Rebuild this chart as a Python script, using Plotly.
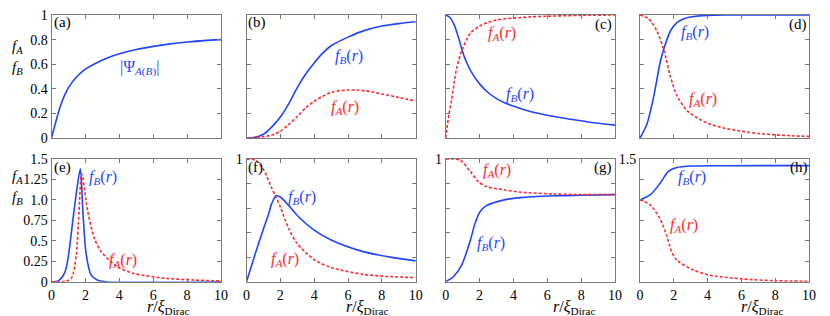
import plotly.graph_objects as go

# ---------------- data ----------------
a_r = [0, 0.25, 0.5, 0.75, 1.0, 1.5, 2.0, 2.5, 3, 4, 5, 6, 7, 8, 9, 10]
a_psi = [0, 0.13, 0.25, 0.34, 0.41, 0.50, 0.56, 0.60, 0.635, 0.685, 0.72, 0.745, 0.765, 0.78, 0.792, 0.80]

b_rB = [0, 0.5, 1, 1.5, 2, 2.5, 3, 3.5, 4, 4.5, 5, 6, 7, 8, 9, 10]
b_fB = [0, 0.005, 0.03, 0.09, 0.17, 0.28, 0.41, 0.52, 0.61, 0.69, 0.75, 0.82, 0.875, 0.91, 0.93, 0.945]
b_rA = [0, 1, 1.5, 2, 2.5, 3, 3.5, 4, 4.5, 5, 5.5, 6, 6.5, 7, 7.5, 8, 9, 10]
b_fA = [0, 0.01, 0.025, 0.055, 0.11, 0.175, 0.245, 0.30, 0.34, 0.37, 0.385, 0.39, 0.39, 0.385, 0.372, 0.358, 0.33, 0.30]

c_rA = [0, 0.2, 0.35, 0.5, 0.65, 0.95, 1.45, 2, 2.5, 3, 4, 5, 6, 8, 10]
c_fA = [0, 0.2, 0.31, 0.45, 0.57, 0.71, 0.85, 0.91, 0.94, 0.96, 0.975, 0.985, 0.99, 0.997, 1.0]
c_rB = [0, 0.25, 0.5, 0.75, 1, 1.25, 1.5, 2, 2.5, 3, 3.5, 4, 5, 6, 7, 8, 9, 10]
c_fB = [1.0, 0.98, 0.92, 0.82, 0.70, 0.61, 0.54, 0.44, 0.37, 0.32, 0.285, 0.26, 0.215, 0.185, 0.16, 0.14, 0.12, 0.105]

d_rA = [0, 0.5, 1, 1.4, 1.8, 2.2, 2.8, 3.5, 4, 5, 6, 7, 8, 9, 10]
d_fA = [1, 0.97, 0.87, 0.72, 0.50, 0.34, 0.22, 0.155, 0.12, 0.08, 0.055, 0.037, 0.026, 0.018, 0.013]
d_rB = [0, 0.4, 0.8, 1.2, 1.4, 1.8, 2.2, 2.6, 3.2, 4, 5, 10]
d_fB = [0, 0.11, 0.33, 0.62, 0.72, 0.87, 0.94, 0.97, 0.988, 0.996, 1.0, 1.0]

e_rB = [0, 0.4, 0.8, 1.0, 1.2, 1.45, 1.7, 1.85, 2.05, 2.34, 2.7, 3.2, 10]
e_fB = [0, 0.01, 0.12, 0.32, 0.65, 1.06, 1.38, 0.86, 0.33, 0.08, 0.02, 0.0, 0.0]
e_rA = [0, 0.8, 1.17, 1.46, 1.62, 1.78, 2.14, 2.53, 2.92, 3.9, 4.87, 6.8, 8.5, 10]
e_fA = [0, 0.005, 0.04, 0.33, 0.85, 1.32, 0.86, 0.53, 0.37, 0.18, 0.10, 0.04, 0.02, 0.01]

f_rB = [0, 0.5, 1, 1.3, 1.5, 1.75, 2, 2.5, 3, 4, 5, 6.9, 8.5, 10]
f_fB = [0, 0.22, 0.43, 0.55, 0.64, 0.70, 0.69, 0.62, 0.54, 0.42, 0.34, 0.245, 0.20, 0.17]
f_rA = [0, 0.53, 1.02, 1.5, 2, 2.5, 3, 4, 5, 6.9, 8.5, 10]
f_fA = [1.0, 0.99, 0.91, 0.76, 0.61, 0.43, 0.31, 0.18, 0.115, 0.06, 0.042, 0.033]

g_rA = [0, 0.85, 1.44, 1.93, 2.4, 3.4, 4.4, 6.4, 8, 10]
g_fA = [1.0, 0.99, 0.90, 0.815, 0.775, 0.75, 0.73, 0.715, 0.71, 0.71]
g_rB = [0, 0.45, 0.94, 1.44, 1.73, 2.03, 2.4, 3.4, 4.4, 6.4, 8, 10]
g_fB = [0, 0.04, 0.135, 0.33, 0.475, 0.57, 0.62, 0.665, 0.685, 0.70, 0.705, 0.71]

h_rB = [0, 0.6, 1.18, 1.67, 2.17, 3.15, 5, 10]
h_fB = [1.0, 1.06, 1.20, 1.345, 1.395, 1.415, 1.418, 1.419]
h_rA = [0, 0.6, 1.18, 1.57, 1.87, 2.17, 3.15, 4.13, 6.1, 8, 10]
h_fA = [1.0, 0.94, 0.77, 0.57, 0.37, 0.265, 0.143, 0.08, 0.033, 0.012, 0.005]

x_ticks = [0, 2, 4, 6, 8, 10]
x_ticklabels = ["0", "2", "4", "6", "8", "10"]
y1_ticks = [0, 0.2, 0.4, 0.6, 0.8, 1.0]
y1_labels_full = ["0", "0.2", "0.4", "0.6", "0.8", "1"]
y15_ticks = [0, 0.25, 0.5, 0.75, 1.0, 1.25, 1.5]
y15_labels_full = ["0", "0.25", "0.5", "0.75", "1.0", "1.25", "1.5"]
panel_letters = ["(a)", "(b)", "(c)", "(d)", "(e)", "(f)", "(g)", "(h)"]

# ---------------- styling ----------------
BLUE = "#1f45ff"
RED = "#ff2a2a"
FRAME = "#7a7a7a"
FONT = "Liberation Serif, DejaVu Serif, serif"
OFF = 8            # page body margin
W, H = 822, 308

col_px = [(51.5, 221), (246.5, 415.7), (445.7, 615), (640, 809)]
row_px = [(15, 138), (159, 281.7)]

def PX(X):
    return (X - OFF) / W

def PY(Y):
    return 1 - (Y - OFF) / H

fig = go.Figure()

def add_line(idx, xs, ys, color, dashed):
    fig.add_trace(go.Scatter(
        x=xs, y=ys, mode="lines", xaxis=f"x{idx}", yaxis=f"y{idx}",
        line=dict(color=color, width=1.6, shape="spline", smoothing=0.8,
                  dash="3px,2px" if dashed else "solid"),
        showlegend=False, hoverinfo="skip"))

curves = {
    1: [(a_r, a_psi, BLUE, False)],
    2: [(b_rB, b_fB, BLUE, False), (b_rA, b_fA, RED, True)],
    3: [(c_rB, c_fB, BLUE, False), (c_rA, c_fA, RED, True)],
    4: [(d_rB, d_fB, BLUE, False), (d_rA, d_fA, RED, True)],
    5: [(e_rB, e_fB, BLUE, False), (e_rA, e_fA, RED, True)],
    6: [(f_rB, f_fB, BLUE, False), (f_rA, f_fA, RED, True)],
    7: [(g_rB, g_fB, BLUE, False), (g_rA, g_fA, RED, True)],
    8: [(h_rB, h_fB, BLUE, False), (h_rA, h_fA, RED, True)],
}
for idx, lst in curves.items():
    for xs, ys, c, d in lst:
        add_line(idx, xs, ys, c, d)

layout = {}
for i in range(8):
    idx = i + 1
    row = i // 4
    col = i % 4
    bottom = row == 1
    key_x = "xaxis" if idx == 1 else f"xaxis{idx}"
    key_y = "yaxis" if idx == 1 else f"yaxis{idx}"
    if idx in (5, 8):
        yt, ymax = y15_ticks, 1.5
    else:
        yt, ymax = y1_ticks, 1.0
    if idx == 1:
        ylab = y1_labels_full
    elif idx == 5:
        ylab = y15_labels_full
    elif idx in (6, 7):
        ylab = [""] * 5 + ["1"]
    elif idx == 8:
        ylab = [""] * 6 + ["1.5"]
    else:
        ylab = [""] * len(yt)
    common = dict(showline=True, linecolor=FRAME, linewidth=1, mirror="ticks",
                  ticks="inside", ticklen=4, tickcolor=FRAME, showgrid=False,
                  zeroline=False, automargin=False, ticklabeloverflow="allow",
                  tickfont=dict(family=FONT, size=14, color="black"))
    x0, x1 = col_px[col]
    yT, yB = row_px[row]
    layout[key_x] = dict(domain=[PX(x0), PX(x1)], range=[0, 10],
                         anchor=f"y{idx}", tickvals=x_ticks,
                         ticktext=x_ticklabels if bottom else [""] * 6, **common)
    layout[key_y] = dict(domain=[PY(yB), PY(yT)], range=[0, ymax],
                         anchor=f"x{idx}", tickvals=yt, ticktext=ylab, **common)

fig.update_layout(width=W, height=H, margin=dict(l=0, r=0, t=0, b=0, autoexpand=False),
                  paper_bgcolor="white", plot_bgcolor="white",
                  font=dict(family=FONT, size=15, color="black"), **layout)

ann = []
def lab(idx, x, y, text, color, size=16):
    ann.append(dict(x=x, y=y, xref=f"x{idx}", yref=f"y{idx}", text=text,
                    showarrow=False, font=dict(family=FONT, size=size, color=color),
                    xanchor="center", yanchor="middle"))

fB = "<i>f</i><sub><i>B</i></sub>(<i>r</i>)"
fA = "<i>f</i><sub><i>A</i></sub>(<i>r</i>)"
lab(1, 5.2, 0.57, "|Ψ<sub><i>A</i>(<i>B</i>)</sub>|", BLUE)
lab(2, 6.05, 0.66, fB, BLUE); lab(2, 5.8, 0.25, fA, RED)
lab(3, 4.4, 0.35, fB, BLUE); lab(3, 3.3, 0.85, fA, RED)
lab(4, 3.25, 0.86, fB, BLUE); lab(4, 3.7, 0.31, fA, RED)
lab(5, 3.06, 1.27, fB, BLUE); lab(5, 4.2, 0.265, fA, RED)
lab(6, 3.3, 0.69, fB, BLUE); lab(6, 2.3, 0.177, fA, RED)
lab(7, 2.7, 0.315, fB, BLUE); lab(7, 3.05, 0.91, fA, RED)
lab(8, 3.06, 1.28, fB, BLUE); lab(8, 2.6, 0.69, fA, RED)

# panel letters
letter_pos = [(52, 23, "left"), (246, 23, "left"), (614, 24, "right"), (809, 24, "right"),
              (52, 167, "left"), (246, 168, "left"), (614, 168, "right"), (810, 168, "right")]
for t, (px, py, anc) in zip(panel_letters, letter_pos):
    ann.append(dict(x=PX(px), y=PY(py), xref="paper", yref="paper", text=t,
                    showarrow=False, xanchor=anc, yanchor="middle",
                    font=dict(family=FONT, size=15, color="black")))

# y titles
for yy in (36, 177):
    ann.append(dict(x=PX(10), y=PY(yy), xref="paper", yref="paper",
                    text="<i>f</i><sub><i>A</i></sub>", showarrow=False,
                    font=dict(family=FONT, size=15, color="black")))
    ann.append(dict(x=PX(10), y=PY(yy + 21), xref="paper", yref="paper",
                    text="<i>f</i><sub><i>B</i></sub>", showarrow=False,
                    font=dict(family=FONT, size=15, color="black")))

# x titles
xt = "<i>r</i>/<i>ξ</i><sub>Dirac</sub>"
for idx, xc in zip((5, 6, 7, 8), (6.9, 7.1, 7.6, 7.2)):
    ann.append(dict(x=xc, y=PY(307), xref=f"x{idx}", yref="paper", text=xt,
                    showarrow=False, xanchor="center", yanchor="middle",
                    font=dict(family=FONT, size=16, color="black")))

fig.update_layout(annotations=ann)
fig.write_html("out.html")
